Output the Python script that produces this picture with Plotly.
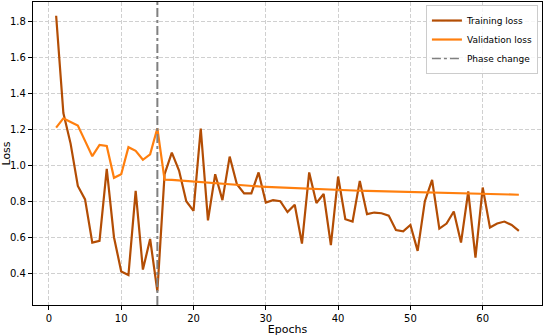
import plotly.graph_objects as go

epochs = list(range(1, 66))

train_loss = [
    1.83, 1.29, 1.12, 0.885, 0.81, 0.57, 0.58, 0.98, 0.60, 0.41,
    0.39, 0.857, 0.42, 0.59, 0.30, 0.95, 1.07, 0.97, 0.80, 0.746,
    1.204, 0.694, 0.95, 0.806, 1.048, 0.894, 0.843, 0.843, 0.96, 0.793,
    0.806, 0.80, 0.74, 0.78, 0.565, 0.96, 0.79, 0.84, 0.556, 0.937,
    0.70, 0.687, 0.913, 0.728, 0.737, 0.733, 0.72, 0.64, 0.633, 0.668,
    0.524, 0.80, 0.918, 0.648, 0.676, 0.743, 0.57, 0.854, 0.487, 0.876,
    0.654, 0.676, 0.687, 0.668, 0.635,
]

val_loss = [
    1.209, 1.26, 1.24, 1.22, 1.135, 1.05, 1.113, 1.107, 0.93, 0.95,
    1.10, 1.08, 1.03, 1.06, 1.205, 0.92, 0.918, 0.915, 0.912, 0.908,
    0.905, 0.900, 0.897, 0.893, 0.890, 0.888, 0.886, 0.884, 0.882, 0.880,
    0.878, 0.876, 0.874, 0.872, 0.870, 0.868, 0.866, 0.866, 0.864, 0.862,
    0.862, 0.860, 0.858, 0.857, 0.856, 0.855, 0.854, 0.853, 0.852, 0.851,
    0.850, 0.849, 0.848, 0.847, 0.846, 0.845, 0.844, 0.843, 0.842, 0.841,
    0.840, 0.839, 0.838, 0.837, 0.836,
]

phase_change_epoch = 15

fig = go.Figure()
fig.add_trace(go.Scatter(
    x=epochs, y=train_loss, mode='lines', name='Training loss',
    line=dict(color='#b34d04', width=2.2),
))
fig.add_trace(go.Scatter(
    x=epochs, y=val_loss, mode='lines', name='Validation loss',
    line=dict(color='#ff7f0e', width=2.2),
))
# legend-only entry for the vertical line
fig.add_trace(go.Scatter(
    x=[None], y=[None], mode='lines', name='Phase change',
    line=dict(color='#808080', width=1.6, dash='dashdot'),
))
fig.add_vline(x=phase_change_epoch, line=dict(color='#808080', width=2, dash='dashdot'))

fig.update_xaxes(
    range=[-2.2, 68.2], dtick=10,
    showline=True, linecolor='#000000', linewidth=1.4, mirror=True,
    ticks='outside', ticklen=4, tickcolor='#000000', tickwidth=1,
    showgrid=True, gridcolor='#d0d0d0', griddash='4px,2px', gridwidth=0.8,
    zeroline=False, tickfont=dict(size=10, color='black'), automargin=False,
    title=dict(text='Epochs', font=dict(size=11), standoff=2),
)
fig.update_yaxes(
    range=[0.2235, 1.9065], dtick=0.2, tickformat='.1f',
    showline=True, linecolor='#000000', linewidth=1.4, mirror=True,
    ticks='outside', ticklen=4, tickcolor='#000000', tickwidth=1,
    showgrid=True, gridcolor='#d0d0d0', griddash='4px,2px', gridwidth=0.8,
    zeroline=False, tickfont=dict(size=10, color='black'), automargin=False,
    title=dict(text='Loss', font=dict(size=11), standoff=4),
)

fig.update_layout(
    template='none',
    width=544, height=336,
    margin=dict(l=33, r=2, t=2, b=31),
    plot_bgcolor='white', paper_bgcolor='white',
    font=dict(family='DejaVu Sans', color='black'),
    legend=dict(
        x=0.992, y=0.99, xanchor='right', yanchor='top',
        bgcolor='rgba(255,255,255,0.8)', bordercolor='#cccccc', borderwidth=1,
        font=dict(size=9), tracegroupgap=0, itemwidth=30,
    ),
)

# drop the default page margin so the figure sits at the window's corner
fig.write_html("out.html", config={'displayModeBar': False},
               post_script="document.body.style.margin='0px';")
